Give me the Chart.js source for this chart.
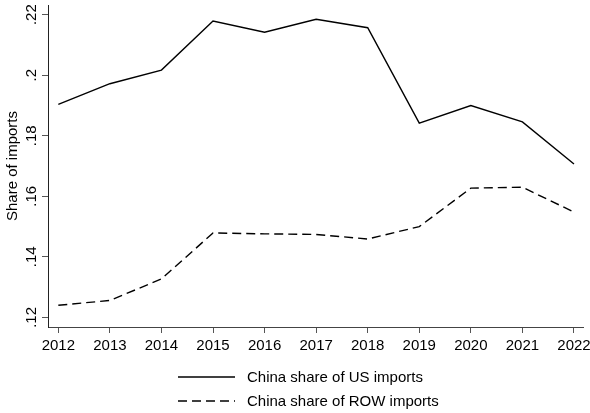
<!DOCTYPE html>
<html>
<head>
<meta charset="utf-8">
<script src="https://cdn.jsdelivr.net/npm/chart.js@4.4.1/dist/chart.umd.min.js"></script>
<style>
  html, body { margin: 0; padding: 0; background: #fff; }
</style>
</head>
<body>
<canvas id="chart" width="590" height="413"></canvas>
<script>
// Data
const years = [2012, 2013, 2014, 2015, 2016, 2017, 2018, 2019, 2020, 2021, 2022];
const usShare = [0.1904, 0.1972, 0.2017, 0.2179, 0.2142, 0.2185, 0.2157, 0.1842, 0.1900, 0.1846, 0.1707];
const rowShare = [0.1240, 0.1256, 0.1327, 0.1479, 0.1476, 0.1474, 0.1459, 0.1500, 0.1627, 0.1630, 0.1548];
const yTicks = [0.12, 0.14, 0.16, 0.18, 0.2, 0.22];
const seriesLabels = ['China share of US imports', 'China share of ROW imports'];

const FONT = "'Liberation Sans', Arial, sans-serif";

// --- Legend drawn below the axis (two rows, line sample + text) ---
const stataLegend = {
  id: 'stataLegend',
  afterDraw(chart) {
    const c = chart.ctx;
    c.save();
    c.font = '15px ' + FONT;
    c.textBaseline = 'middle';
    c.fillStyle = '#000';
    chart.data.datasets.forEach((ds, i) => {
      const y = 377 + i * 24;
      c.beginPath();
      c.strokeStyle = ds.borderColor;
      c.lineWidth = ds.borderWidth;
      c.setLineDash(ds.borderDash || []);
      c.moveTo(178, y);
      c.lineTo(235, y);
      c.stroke();
      c.fillText(ds.label, 247, y + 1);
    });
    c.restore();
  }
};

const toPoints = vals => years.map((yr, i) => ({ x: yr, y: vals[i] }));

const ctx = document.getElementById('chart').getContext('2d');
const chart = new Chart(ctx, {
  type: 'line',
  data: {
    datasets: [{
      label: seriesLabels[0],
      data: toPoints(usShare),
      borderColor: '#000',
      borderWidth: 1.4,
      pointRadius: 0,
      tension: 0
    }, {
      label: seriesLabels[1],
      data: toPoints(rowShare),
      borderColor: '#000',
      borderWidth: 1.4,
      borderDash: [9, 5],
      pointRadius: 0,
      tension: 0
    }]
  },
  options: {
    responsive: false,
    devicePixelRatio: 1,
    animation: false,
    layout: { padding: { left: 0, right: 7, top: 5, bottom: 0 } },
    plugins: {
      legend: { display: false },
      tooltip: { enabled: false }
    },
    scales: {
      x: {
        type: 'linear',
        min: 2011.8,
        max: 2022.175,
        afterBuildTicks: scale => { scale.ticks = years.map(v => ({ value: v })); },
        afterFit: scale => {
          scale.height = 86;
          scale.paddingLeft = 0;
          scale.paddingRight = 0;
        },
        grid: { display: true, drawOnChartArea: false, drawTicks: true, tickLength: 6, color: '#555' },
        border: { display: true, color: '#444', width: 1 },
        ticks: {
          color: '#000',
          font: { family: FONT, size: 15 },
          padding: 4,
          maxRotation: 0,
          callback: v => String(v)
        }
      },
      y: {
        type: 'linear',
        min: 0.11683,
        max: 0.2232,
        afterBuildTicks: scale => { scale.ticks = yTicks.map(v => ({ value: v })); },
        afterFit: scale => {
          scale.width = 48;
          scale.paddingTop = 0;
          scale.paddingBottom = 0;
        },
        grid: { display: true, drawOnChartArea: false, drawTicks: true, tickLength: 6, color: '#555' },
        border: { display: true, color: '#222', width: 1 },
        title: {
          display: true,
          text: 'Share of imports',
          color: '#000',
          font: { family: FONT, size: 15 },
          padding: { top: 4, bottom: 0 }
        },
        ticks: {
          color: '#000',
          font: { family: FONT, size: 15 },
          padding: 0,
          minRotation: 90,
          maxRotation: 90,
          crossAlign: 'center',
          callback: v => String(+v.toFixed(2)).replace(/^0/, '')
        }
      }
    }
  },
  plugins: [stataLegend]
});
</script>
</body>
</html>
